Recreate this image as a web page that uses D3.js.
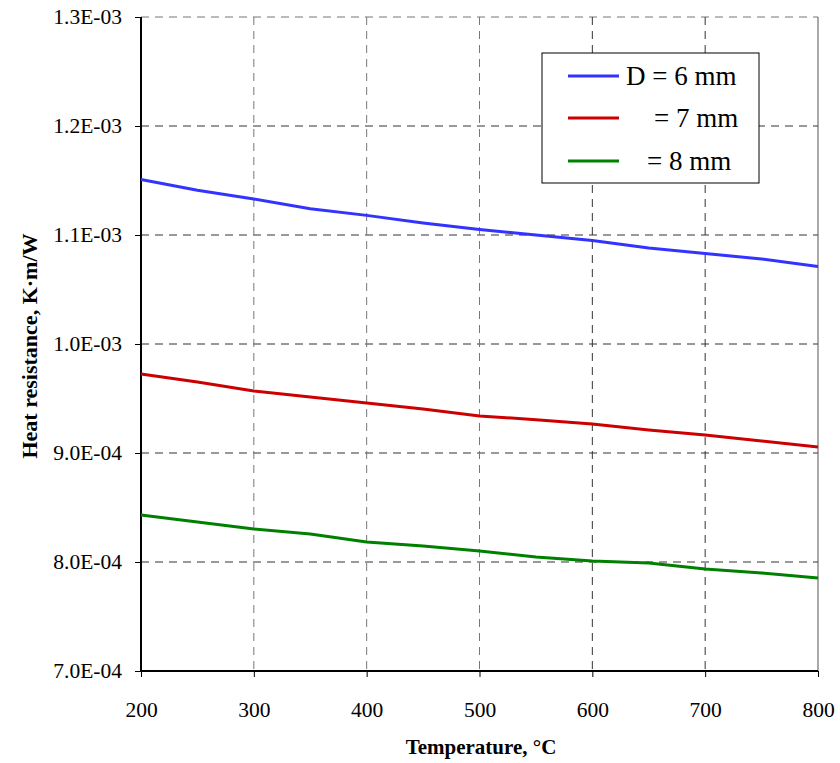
<!DOCTYPE html>
<html><head><meta charset="utf-8">
<script src="https://cdn.jsdelivr.net/npm/d3@7/dist/d3.min.js"></script>
<style>body{margin:0;background:#fff}svg{display:block}</style>
</head><body><svg id="c" width="840" height="763"></svg>
<script>
const temps = [200,250,300,350,400,450,500,550,600,650,700,750,800];
const d6 = [1.151e-3,1.141e-3,1.133e-3,1.124e-3,1.118e-3,1.111e-3,1.105e-3,1.100e-3,1.095e-3,1.088e-3,1.083e-3,1.078e-3,1.071e-3];
const d7 = [0.9725e-3,0.9651e-3,0.9569e-3,0.9514e-3,0.9459e-3,0.9404e-3,0.9340e-3,0.9305e-3,0.9266e-3,0.9211e-3,0.9165e-3,0.9110e-3,0.9055e-3];
const d8 = [0.8431e-3,0.8367e-3,0.8303e-3,0.8257e-3,0.8183e-3,0.8147e-3,0.8101e-3,0.8046e-3,0.8009e-3,0.7990e-3,0.7936e-3,0.7900e-3,0.7853e-3];
const seriesNames = ["D = 6 mm", "= 7 mm", "= 8 mm"];
const seriesColors = ["#3333ff", "#cc0000", "#008000"];
const xTicks = [200,300,400,500,600,700,800];
const yTicks = [7.0e-4,8.0e-4,9.0e-4,1.0e-3,1.1e-3,1.2e-3,1.3e-3];
const yTickLabels = ["7.0E-04","8.0E-04","9.0E-04","1.0E-03","1.1E-03","1.2E-03","1.3E-03"];

const svg = d3.select("#c");
const L=141, R=818, T=17, B=671;
const x = d3.scaleLinear().domain([200,800]).range([L,R]);
const y = d3.scaleLinear().domain([7.0e-4,1.3e-3]).range([B,T]);
const font = "Liberation Serif, Times New Roman, serif";

// gridlines
const g = svg.append("g");
g.selectAll(".hg").data(yTicks.slice(1)).join("line")
  .attr("x1",L).attr("x2",R).attr("y1",d=>y(d)).attr("y2",d=>y(d))
  .attr("stroke",(d,i)=> i===yTicks.length-2 ? "#777" : "#333").attr("stroke-width",1)
  .attr("stroke-dasharray","8,6");
g.selectAll(".vg").data(xTicks.slice(1,-1)).join("line")
  .attr("x1",d=>x(d)).attr("x2",d=>x(d)).attr("y1",T).attr("y2",B)
  .attr("stroke",(d,i)=> i<3 ? "#777" : "#333").attr("stroke-width",1)
  .attr("stroke-dasharray","8,6");
svg.append("line").attr("x1",R).attr("x2",R).attr("y1",T).attr("y2",B).attr("stroke","#555").attr("stroke-width",1);

// axes
const xAxis = d3.axisBottom(x).tickValues(xTicks).tickSize(6).tickPadding(24).tickFormat(d3.format("d"));
const yAxis = d3.axisLeft(y).tickValues(yTicks).tickSize(6).tickPadding(13).tickFormat((d,i)=>yTickLabels[i]);
const xa = svg.append("g").attr("transform",`translate(0,${B})`).call(xAxis);
const ya = svg.append("g").attr("transform",`translate(${L},0)`).call(yAxis);
[xa,ya].forEach(a=>{
  a.attr("font-family",null).attr("font-size",null);
  a.select(".domain").attr("stroke","#000").attr("stroke-width",2);
  a.selectAll(".tick line").attr("stroke","#000").attr("stroke-width",1);
  a.selectAll("text").style("font-family",font).style("font-size","21.5px").attr("fill","#000");
});
xa.selectAll("text").attr("dy",null).attr("y",46);
xa.select(".domain").attr("d",`M${L},0H${R}`);
ya.select(".domain").attr("d",`M0,${B}V${T}`);

// lines
const allSeries = [d6,d7,d8];
const line = d3.line().x((d,i)=>x(temps[i])).y(d=>y(d));
svg.selectAll(".s").data(allSeries).join("path")
  .attr("d",line).attr("fill","none")
  .attr("stroke",(d,i)=>seriesColors[i]).attr("stroke-width",3).attr("stroke-linejoin","round");

// axis titles
svg.append("text").attr("x",481).attr("y",754).attr("text-anchor","middle")
  .style("font-family",font).style("font-weight","bold").style("font-size","21px").text("Temperature, °C");
svg.append("text").attr("transform","translate(37,346) rotate(-90)").attr("text-anchor","middle")
  .style("font-family",font).style("font-weight","bold").style("font-size","22px").text("Heat resistance, K·m/W");

// legend
const lg = svg.append("g");
lg.append("rect").attr("x",542).attr("y",53).attr("width",217).attr("height",130)
  .attr("fill","#fff").attr("stroke","#000").attr("stroke-width",1);
const rowsY = [76,118,161];
const textX = [626,654,647];
seriesNames.forEach((n,i)=>{
  lg.append("line").attr("x1",568).attr("x2",619).attr("y1",rowsY[i]).attr("y2",rowsY[i])
    .attr("stroke",seriesColors[i]).attr("stroke-width",3);
  lg.append("text").attr("x",textX[i]).attr("y",rowsY[i]+9).style("font-family",font)
    .style("font-size","27px").attr("fill","#000").text(n);
});
</script></body></html>
